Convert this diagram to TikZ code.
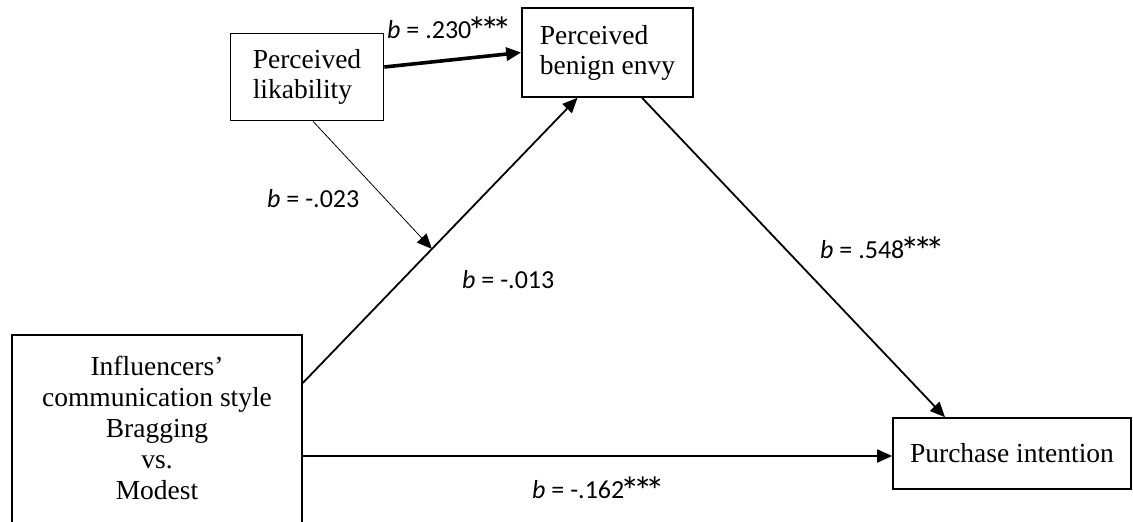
\documentclass[tikz,border=0pt]{standalone}
\usepackage{fontspec}
\usepackage{graphicx}
\setmainfont{Liberation Serif}
\newfontfamily\lblfont{Carlito}
\newcommand\onestar{\scalebox{1.5}{*}}
\newcommand\mystars{\kern-3.5pt\raisebox{-6pt}{\onestar\kern-7pt\onestar\kern-7pt\onestar}}
\usetikzlibrary{arrows.meta,calc}
\begin{document}
\begin{tikzpicture}[x=1pt,y=-1pt,
  box/.style={draw,line width=1.6pt,inner sep=0pt,font=\fontsize{27.5}{30}\selectfont},
  arr/.style={line width=1.8pt,-{Triangle[length=15pt,width=13pt]}},
  lbl/.style={font=\lblfont\fontsize{26}{30}\selectfont,inner sep=0pt,anchor=base west}]
\useasboundingbox (0,0) rectangle (1133,522);
\clip (0,0) rectangle (1133,522);
\node[box,minimum width=153pt,minimum height=87pt,align=left] (lik) at (307,77) {Perceived\\likability};
\node[box,minimum width=171pt,minimum height=89pt,align=left] (envy) at (607.5,52.5) {Perceived\\benign envy};
\node[box,minimum width=290pt,minimum height=195pt] (inf) at (157,432.5) {};
\node[inner sep=0pt,align=center,font=\fontsize{27.5}{31}\selectfont] (inft) at (157,428) {Influencers'\\communication style\\Bragging\\vs.\\Modest};
\node[box,minimum width=238pt,minimum height=71pt] (purch) at (1012,453.5) {Purchase intention};
\draw[arr,line width=3.6pt] ([yshift=10pt]lik.east) -- (envy.west);
\draw[arr] ([yshift=49.5pt]inf.east) coordinate (a) -- ([xshift=-30pt]envy.south) coordinate (b);
\coordinate (m) at ($(a)!0.47!(b)$);
\draw[line width=0.8pt,-{Triangle[length=15pt,width=13pt]}] ([xshift=6pt]lik.south) -- (m);
\draw[arr] ([xshift=34.5pt]envy.south) -- ([xshift=-67pt]purch.north);
\draw[arr] ([yshift=-23.5pt]inf.east) coordinate (s2) -- (s2 -| purch.west);
\node[lbl] (l1) at (387,38) {\textit{b} = .230\mystars};
\node[lbl] (l2) at (267,207) {\textit{b} = -.023};
\node[lbl] (l3) at (462,288) {\textit{b} = -.013};
\node[lbl] (l4) at (820,258) {\textit{b} = .548\mystars};
\node[lbl] (l5) at (532,498) {\textit{b} = -.162\mystars};
\end{tikzpicture}
\end{document}
